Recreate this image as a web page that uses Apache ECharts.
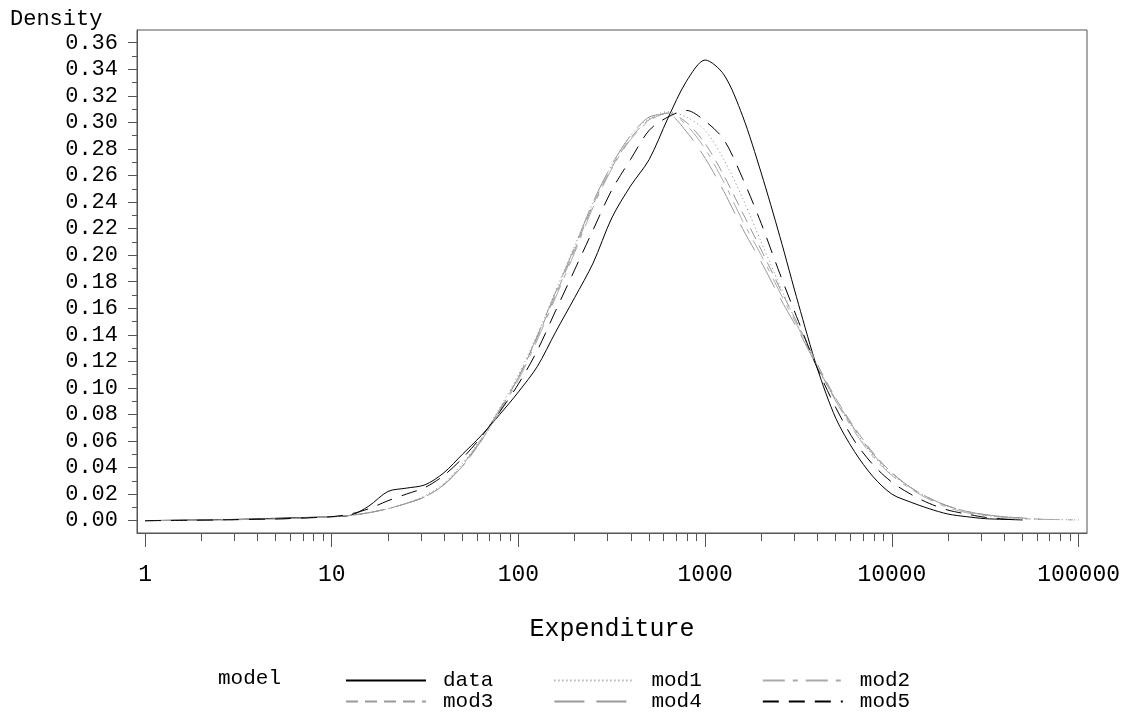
<!DOCTYPE html>
<html>
<head>
<meta charset="utf-8">
<title>Density of Expenditure</title>
<script src="https://cdn.jsdelivr.net/npm/echarts@6/dist/echarts.min.js"></script>
<style>
  html, body { margin: 0; padding: 0; background: #fff; }
  #chart { width: 1133px; height: 721px; }
</style>
</head>
<body>
<div id="chart"></div>
<script>
// expenditure grid the densities were read at (log scale on the chart)
var expenditure = [1, 1.78, 3.16, 5.62, 10, 12.6, 15.8, 20, 25.1, 31.6, 39.8, 50.1, 63.1, 79.4,
  100, 126, 158, 200, 251, 316, 398, 501, 631, 794, 1000, 1259, 1585, 1995, 2512, 3162,
  3981, 5012, 6310, 7943, 10000, 12589, 15849, 19953, 25119, 31623, 39811, 50119, 63096, 79433, 100000];

var dataDensity = [0, 0.0005, 0.001, 0.002, 0.003, 0.004, 0.011, 0.022, 0.0245, 0.027, 0.036, 0.050, 0.064, 0.080,
  0.097, 0.116, 0.142, 0.168, 0.194, 0.228, 0.252, 0.272, 0.303, 0.331, 0.347, 0.336, 0.305, 0.262, 0.214, 0.163,
  0.115, 0.077, 0.052, 0.033, 0.020, 0.014, 0.009, 0.005, 0.003, 0.0015, 0.001, 0.0005, null, null, null];

var mod1 = [0, 0.0003, 0.0008, 0.0015, 0.003, 0.004, 0.006, 0.009, 0.013, 0.019, 0.028, 0.043, 0.062, 0.085,
  0.110, 0.140, 0.173, 0.207, 0.240, 0.268, 0.290, 0.303, 0.308, 0.304, 0.294, 0.272, 0.243, 0.210, 0.177, 0.146,
  0.116, 0.090, 0.068, 0.049, 0.035, 0.025, 0.017, 0.011, 0.007, 0.004, 0.0025, 0.0015, 0.001, 0.0008, 0.0005];

var mod2 = [0, 0.0003, 0.0008, 0.0015, 0.003, 0.004, 0.006, 0.009, 0.013, 0.018, 0.027, 0.041, 0.060, 0.082,
  0.106, 0.136, 0.168, 0.202, 0.236, 0.265, 0.287, 0.301, 0.307, 0.298, 0.280, 0.255, 0.226, 0.200, 0.172, 0.145,
  0.116, 0.090, 0.067, 0.048, 0.034, 0.024, 0.016, 0.010, 0.006, 0.004, 0.0025, 0.0015, 0.001, 0.0008, 0.0005];

var mod3 = [0, 0.0003, 0.0008, 0.0015, 0.003, 0.004, 0.006, 0.009, 0.013, 0.018, 0.027, 0.041, 0.060, 0.083,
  0.108, 0.138, 0.170, 0.204, 0.238, 0.266, 0.288, 0.302, 0.307, 0.300, 0.284, 0.260, 0.232, 0.204, 0.175, 0.147,
  0.118, 0.092, 0.070, 0.051, 0.036, 0.025, 0.017, 0.011, 0.007, 0.0045, 0.003, 0.002, 0.001, null, null];

var mod4 = [0, 0.0003, 0.0008, 0.0015, 0.003, 0.004, 0.006, 0.009, 0.013, 0.018, 0.027, 0.042, 0.061, 0.084,
  0.108, 0.139, 0.172, 0.206, 0.240, 0.268, 0.290, 0.304, 0.306, 0.293, 0.273, 0.248, 0.220, 0.195, 0.168, 0.143,
  0.116, 0.091, 0.069, 0.050, 0.036, 0.025, 0.017, 0.011, 0.007, 0.0045, 0.003, 0.002, null, null, null];

var mod5 = [0, 0.0003, 0.0008, 0.0015, 0.003, 0.005, 0.009, 0.015, 0.020, 0.025, 0.034, 0.047, 0.063, 0.082,
  0.103, 0.128, 0.158, 0.189, 0.219, 0.249, 0.272, 0.294, 0.304, 0.309, 0.301, 0.287, 0.258, 0.224, 0.186, 0.150,
  0.115, 0.085, 0.060, 0.042, 0.029, 0.020, 0.013, 0.008, 0.005, 0.0025, 0.0012, 0.0005, null, null, null];

// tick positions
var xMajor = [1, 10, 100, 1000, 10000, 100000];
var yMajor = [0, 0.02, 0.04, 0.06, 0.08, 0.10, 0.12, 0.14, 0.16, 0.18, 0.20, 0.22, 0.24, 0.26, 0.28, 0.30, 0.32, 0.34, 0.36];
var yMinor = [0.01, 0.03, 0.05, 0.07, 0.09, 0.11, 0.13, 0.15, 0.17, 0.19, 0.21, 0.23, 0.25, 0.27, 0.29, 0.31, 0.33, 0.35];

var font = '"Liberation Mono", "DejaVu Sans Mono", monospace';
var axisColor = '#555';

// minor log ticks 2..9 in every decade
var xMinor = [];
xMajor.slice(0, -1).forEach(function (d) {
  for (var k = 2; k <= 9; k++) xMinor.push(Math.log10(d * k));
});

function pairs(arr) {
  return expenditure.map(function (e, i) { return [Math.log10(e), arr[i]]; });
}

var seriesDefs = [
  { name: 'data', values: dataDensity, color: '#000', type: 'solid' },
  { name: 'mod1', values: mod1, color: '#888', type: [1, 3] },
  { name: 'mod2', values: mod2, color: '#aaa', type: [22, 8, 5, 8] },
  { name: 'mod3', values: mod3, color: '#999', type: [12, 7] },
  { name: 'mod4', values: mod4, color: '#999', type: [30, 12] },
  { name: 'mod5', values: mod5, color: '#000', type: [16, 10] }
];

var chart = echarts.init(document.getElementById('chart'));

var legendCommon = {
  left: 345,
  padding: 0,
  itemWidth: 80,
  itemHeight: 10,
  itemGap: 60,
  selectedMode: false,
  itemStyle: { opacity: 0 },
  textStyle: { fontFamily: font, fontSize: 21, color: '#000', padding: [0, 0, 0, 12] }
};

chart.setOption({
  animation: false,
  backgroundColor: '#fff',
  grid: {
    left: 137, top: 30, right: 46, bottom: 188,
    show: true, borderColor: axisColor, borderWidth: 1
  },
  legend: [
    Object.assign({ top: 670, data: ['data', 'mod1', 'mod2'] }, legendCommon),
    Object.assign({ top: 691, data: ['mod3', 'mod4', 'mod5'] }, legendCommon)
  ],
  graphic: [
    { type: 'text', left: 10, top: 8, style: { text: 'Density', font: '22px ' + font, fill: '#000' } },
    { type: 'text', left: 218, top: 668, style: { text: 'model', font: '21px ' + font, fill: '#000' } }
  ],
  xAxis: [
    {
      type: 'value',
      min: -0.043,
      max: 5.045,
      name: 'Expenditure',
      nameLocation: 'middle',
      nameGap: 84,
      nameTextStyle: { fontFamily: font, fontSize: 25, color: '#000' },
      axisLine: { show: true, onZero: false, lineStyle: { color: axisColor } },
      axisTick: { show: true, length: 14, customValues: xMajor.map(Math.log10), lineStyle: { color: axisColor } },
      axisLabel: {
        customValues: xMajor.map(Math.log10),
        margin: 30,
        fontFamily: font, fontSize: 23, color: '#000',
        formatter: function (v) { return String(Math.round(Math.pow(10, v))); }
      },
      splitLine: { show: false }
    },
    {
      type: 'value',
      min: -0.043,
      max: 5.045,
      position: 'bottom',
      axisLine: { show: false, onZero: false },
      axisTick: { show: true, length: 8, customValues: xMinor, lineStyle: { color: axisColor } },
      axisLabel: { show: false },
      splitLine: { show: false }
    }
  ],
  yAxis: [
    {
      type: 'value',
      min: -0.0093,
      max: 0.3696,
      axisLine: { show: true, onZero: false, lineStyle: { color: axisColor } },
      axisTick: { show: true, length: 9, customValues: yMajor, lineStyle: { color: axisColor } },
      axisLabel: {
        customValues: yMajor,
        margin: 19,
        fontFamily: font, fontSize: 22, color: '#000',
        formatter: function (v) { return v.toFixed(2); }
      },
      splitLine: { show: false }
    },
    {
      type: 'value',
      min: -0.0093,
      max: 0.3696,
      position: 'left',
      axisLine: { show: false, onZero: false },
      axisTick: { show: true, length: 5, customValues: yMinor, lineStyle: { color: axisColor } },
      axisLabel: { show: false },
      splitLine: { show: false }
    }
  ],
  series: seriesDefs.map(function (s) {
    return {
      name: s.name,
      type: 'line',
      xAxisIndex: 0,
      yAxisIndex: 0,
      data: pairs(s.values),
      smooth: 0.3,
      symbol: 'none',
      showSymbol: false,
      silent: true,
      itemStyle: { color: s.color },
      lineStyle: { color: s.color, width: 1, type: s.type }
    };
  })
});
</script>
</body>
</html>
